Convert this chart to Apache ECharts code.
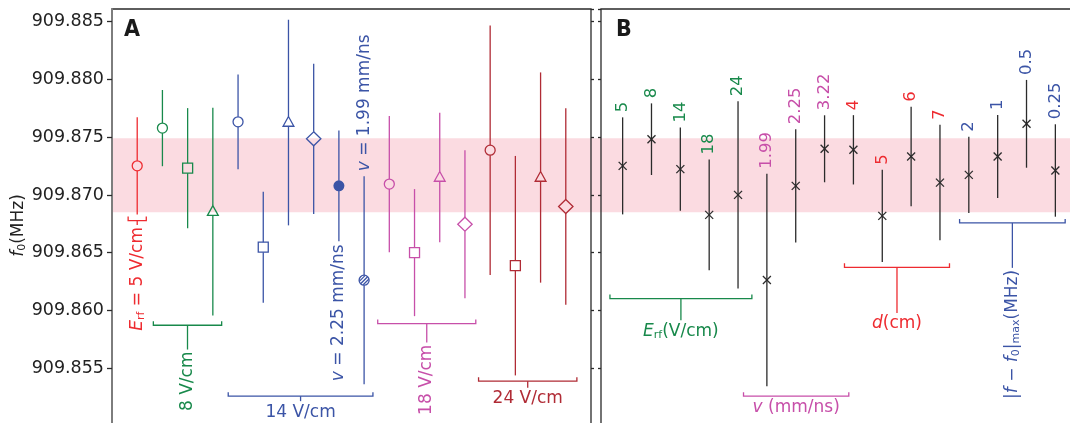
<!DOCTYPE html>
<html>
<head>
<meta charset="utf-8">
<script src="https://cdn.jsdelivr.net/npm/echarts@6/dist/echarts.min.js"></script>
<style>
html, body { margin: 0; padding: 0; background: #fff; }
#chart { width: 1070px; height: 423px; }
</style>
</head>
<body>
<div id="chart"></div>
<script>
// ---- 数据：A 面板（各组测量值 + 误差）
var xA = [1, 2, 3, 4, 5, 6, 7, 8, 9, 10, 11, 12, 13, 14, 15, 16, 17, 18]
var freqA = [909.87252, 909.87579, 909.87232, 909.86856, 909.87633, 909.86548, 909.87627, 909.87486, 909.87079,
  909.86262, 909.87094, 909.86501, 909.87151, 909.86747, 909.87388, 909.86388, 909.87151, 909.86900]
var errA = [0.0042, 0.0033, 0.0052, 0.0090, 0.0041, 0.0048, 0.0089, 0.0065, 0.0048,
  0.0090, 0.0059, 0.0055, 0.0056, 0.0064, 0.0108, 0.0095, 0.0091, 0.0085]
var markerA = ['circle', 'circle', 'square', 'triangle', 'circle', 'square', 'triangle', 'diamond', 'filled',
  'hatched', 'circle', 'square', 'triangle', 'diamond', 'circle', 'square', 'triangle', 'diamond']
var groupA = ['r', 'g', 'g', 'g', 'b', 'b', 'b', 'b', 'b', 'b', 'p', 'p', 'p', 'p', 'd', 'd', 'd', 'd']

// ---- 数据：B 面板（按参数分组）
var xB = [1, 2, 3, 4, 5, 6, 7, 8, 9, 10, 11, 12, 13, 14, 15, 16]
var freqB = [909.87252, 909.87483, 909.87224, 909.86828, 909.87001, 909.86264, 909.87079, 909.87400,
  909.87391, 909.86819, 909.87333, 909.87107, 909.87174, 909.87333, 909.87616, 909.87212]
var errB = [0.0042, 0.0031, 0.0036, 0.0048, 0.0081, 0.0092, 0.0049, 0.0029,
  0.0030, 0.0040, 0.0043, 0.0050, 0.0033, 0.0036, 0.0038, 0.0040]
var labelB = ['5', '8', '14', '18', '24', '1.99', '2.25', '3.22', '4', '5', '6', '7', '2', '1', '0.5', '0.25']
var groupB = ['g', 'g', 'g', 'g', 'g', 'p', 'p', 'p', 'r', 'r', 'r', 'r', 'b', 'b', 'b', 'b']

// 粉色带（平均值范围）
var band = [909.8685, 909.8749]

// 分组括号（x 为数据坐标范围，y 为括号所在频率值，stem 为竖线末端）
var bracketA = [
  { from: 0.64, to: 1.36, y: 909.86778, stem: 909.86740, key: 'r', text: '{i|E}{s|rf} = 5 V/cm', rot: true },
  { from: 1.64, to: 4.35, y: 909.85872, stem: 909.85662, key: 'g', text: '8 V/cm', rot: true },
  { from: 4.61, to: 10.35, y: 909.85258, stem: 909.85215, key: 'b', text: '14 V/cm', rot: false },
  { from: 10.54, to: 14.43, y: 909.85887, stem: 909.85722, key: 'p', text: '18 V/cm', rot: true },
  { from: 14.54, to: 18.44, y: 909.85388, stem: 909.85331, key: 'd', text: '24 V/cm', rot: false }
]
var bracketB = [
  { from: 0.56, to: 5.48, y: 909.86103, stem: 909.85915, key: 'g', text: '{i|E}{s|rf}(V/cm)', rot: false },
  { from: 5.19, to: 8.84, y: 909.85258, stem: 909.85258, key: 'p', text: '{i|v} (mm/ns)', rot: false },
  { from: 8.69, to: 12.33, y: 909.86374, stem: 909.85979, key: 'r', text: '{i|d}(cm)', rot: false },
  { from: 12.68, to: 16.34, y: 909.86758, stem: 909.86369, key: 'b', text: '|{i|f} \u2212 {i|f}{s|0}|{s|max}(MHz)', rot: true }
]
// 单点注释
var notesA = [
  { idx: 8, text: '{i|v} = 2.25 mm/ns', side: 'below' },
  { idx: 9, text: '{i|v} = 1.99 mm/ns', side: 'above' }
]

var FONT = "'DejaVu Sans', 'Noto Sans', sans-serif"
var COLOR = { r: '#ee2b30', g: '#18894b', b: '#3b54a6', p: '#c74fa9', d: '#b02b35' }

function rich (col, size) {
  return {
    i: { fontStyle: 'italic', fontSize: size, fontFamily: FONT, fill: col, color: col },
    s: { fontSize: Math.round(size * 0.65), fontFamily: FONT, fill: col, color: col, padding: [8, 0, 0, 0] }
  }
}

function textEl (x, y, text, col, size, rot, align, vAlign) {
  return {
    type: 'text',
    x: x,
    y: y,
    rotation: rot ? Math.PI / 2 : 0,
    z2: 10,
    style: {
      text: text,
      fill: col,
      fontSize: size,
      fontFamily: FONT,
      align: align,
      verticalAlign: vAlign,
      rich: rich(col, size)
    }
  }
}

function markerEl (kind, x, y, col) {
  var st = { fill: 'rgba(0,0,0,0)', stroke: col, lineWidth: 1.3 }
  if (kind === 'circle') return { el: [{ type: 'circle', shape: { cx: x, cy: y, r: 5 }, style: st }], t: 5, b: 5 }
  if (kind === 'filled') return { el: [{ type: 'circle', shape: { cx: x, cy: y, r: 5.5 }, style: { fill: col } }], t: 5, b: 5 }
  if (kind === 'square') return { el: [{ type: 'rect', shape: { x: x - 5, y: y - 5, width: 10, height: 10 }, style: st }], t: 5, b: 5 }
  if (kind === 'triangle') return { el: [{ type: 'polygon', shape: { points: [[x, y - 6], [x - 5.4, y + 3.7], [x + 5.4, y + 3.7]] }, style: st }], t: 6, b: 3.7 }
  if (kind === 'diamond') return { el: [{ type: 'polygon', shape: { points: [[x, y - 7], [x + 7.2, y], [x, y + 7], [x - 7.2, y]] }, style: st }], t: 7, b: 7 }
  // hatched circle
  var r = 5
  var els = [{ type: 'circle', shape: { cx: x, cy: y, r: r }, style: st }]
  ;[-2.6, 0, 2.6].forEach(function (d) {
    var cx = x + d / Math.SQRT2, cy = y + d / Math.SQRT2
    var L = Math.sqrt(r * r - d * d) - 0.4
    els.push({ type: 'line', shape: { x1: cx - L / Math.SQRT2, y1: cy + L / Math.SQRT2, x2: cx + L / Math.SQRT2, y2: cy - L / Math.SQRT2 }, style: { stroke: col, lineWidth: 1.3 } })
  })
  return { el: els, t: r, b: r }
}

function renderA (params, api) {
  var i = params.dataIndex
  var x = api.value(0), v = api.value(1), e = api.value(2)
  var c = api.coord([x, v]), top = api.coord([x, v + e]), bot = api.coord([x, v - e])
  var col = COLOR[groupA[i]]
  var m = markerEl(markerA[i], c[0], c[1], col)
  var children = [
    { type: 'line', shape: { x1: c[0], y1: top[1], x2: c[0], y2: c[1] - m.t }, style: { stroke: col, lineWidth: 1.3 } },
    { type: 'line', shape: { x1: c[0], y1: c[1] + m.b, x2: c[0], y2: bot[1] }, style: { stroke: col, lineWidth: 1.3 } }
  ].concat(m.el)
  notesA.forEach(function (n) {
    if (n.idx !== i) return
    if (n.side === 'below') children.push(textEl(c[0], bot[1] + 3, n.text, col, 17, true, 'right', 'middle'))
    else children.push(textEl(c[0], top[1] - 5, n.text, col, 17, true, 'left', 'middle'))
  })
  return { type: 'group', children: children }
}

function renderB (params, api) {
  var i = params.dataIndex
  var x = api.value(0), v = api.value(1), e = api.value(2)
  var c = api.coord([x, v]), top = api.coord([x, v + e]), bot = api.coord([x, v - e])
  var k = 4, ink = '#2b2b2b'
  return {
    type: 'group',
    children: [
      { type: 'line', shape: { x1: c[0], y1: top[1], x2: c[0], y2: bot[1] }, style: { stroke: ink, lineWidth: 1.3 } },
      { type: 'line', shape: { x1: c[0] - k, y1: c[1] - k, x2: c[0] + k, y2: c[1] + k }, style: { stroke: ink, lineWidth: 1.3 } },
      { type: 'line', shape: { x1: c[0] - k, y1: c[1] + k, x2: c[0] + k, y2: c[1] - k }, style: { stroke: ink, lineWidth: 1.3 } },
      textEl(c[0], top[1] - 5, labelB[i], COLOR[groupB[i]], 16.5, true, 'left', 'middle')
    ]
  }
}

function bracketRenderer (list) {
  return function (params, api) {
    var b = list[params.dataIndex]
    var col = COLOR[b.key]
    var p1 = api.coord([b.from, b.y]), p2 = api.coord([b.to, b.y])
    var mid = (p1[0] + p2[0]) / 2
    var s = api.coord([(b.from + b.to) / 2, b.stem])
    var children = [
      { type: 'polyline', shape: { points: [[p1[0], p1[1] - 4], [p1[0], p1[1]], [p2[0], p2[1]], [p2[0], p2[1] - 4]] }, style: { stroke: col, lineWidth: 1.3, fill: null } }
    ]
    if (s[1] - p1[1] > 0.5) {
      children.push({ type: 'line', shape: { x1: mid, y1: p1[1], x2: mid, y2: s[1] }, style: { stroke: col, lineWidth: 1.3 } })
    }
    if (b.rot) children.push(textEl(mid, s[1] + 2, b.text, col, 17, true, 'right', 'middle'))
    else children.push(textEl(mid, s[1] + 11, b.text, col, 17, false, 'center', 'middle'))
    return { type: 'group', children: children }
  }
}

function renderBand (params, api) {
  var hi = api.coord([api.value(0), api.value(2)])
  var lo = api.coord([api.value(0), api.value(1)])
  var x0 = params.coordSys.x
  return {
    type: 'rect',
    shape: { x: x0, y: hi[1], width: api.getWidth() - x0, height: lo[1] - hi[1] },
    style: { fill: '#fbdbe1' }
  }
}

var chart = echarts.init(document.getElementById('chart'))

var yBase = { type: 'value', min: 909.850, max: 909.8861, interval: 0.005, splitLine: { show: false } }

var option = {
  animation: false,
  backgroundColor: '#fff',
  grid: [
    { left: 112, top: 9, width: 479, height: 417, show: true, borderColor: '#2a2a2a', borderWidth: 1.3, containLabel: false, outerBoundsMode: 'none' },
    { left: 601, top: 9, width: 476, height: 417, show: true, borderColor: '#2a2a2a', borderWidth: 1.3, containLabel: false, outerBoundsMode: 'none' }
  ],
  xAxis: [
    { gridIndex: 0, type: 'value', min: 0, max: 19, show: false },
    { gridIndex: 1, type: 'value', min: 0.25, max: 16.75, show: false }
  ],
  yAxis: [
    Object.assign({}, yBase, {
      gridIndex: 0,
      position: 'left',
      axisLine: { show: true, lineStyle: { color: '#7d7d7d', width: 2 } },
      axisTick: { show: true, length: 5, lineStyle: { color: '#2a2a2a', width: 1.3 } },
      axisLabel: {
        show: true, margin: 8, fontSize: 17.5, fontFamily: FONT, color: '#222',
        showMinLabel: false, showMaxLabel: false,
        formatter: function (v) { return v.toFixed(3) }
      },
      name: '{i|f}{s|0}(MHz)',
      nameLocation: 'middle',
      nameRotate: 90,
      nameGap: 80,
      nameTextStyle: {
        fontSize: 17, fontFamily: FONT, color: '#222', padding: [0, 16, 0, 0],
        rich: {
          i: { fontStyle: 'italic', fontSize: 17, fontFamily: FONT, color: '#222' },
          s: { fontSize: 11, fontFamily: FONT, color: '#222', padding: [8, 0, 0, 0] }
        }
      }
    }),
    Object.assign({}, yBase, {
      gridIndex: 0,
      position: 'right',
      axisLine: { show: false },
      axisTick: { show: true, length: 3, lineStyle: { color: '#2a2a2a', width: 1.3 } },
      axisLabel: { show: false }
    }),
    Object.assign({}, yBase, {
      gridIndex: 1,
      position: 'left',
      axisLine: { show: false },
      axisTick: { show: true, length: 3, lineStyle: { color: '#2a2a2a', width: 1.3 } },
      axisLabel: { show: false }
    })
  ],
  graphic: [
    { type: 'text', left: 124, top: 19, style: { text: 'A', fontSize: 23, fontWeight: 'bold', fontFamily: "'Liberation Sans Narrow', 'DejaVu Sans Condensed', 'DejaVu Sans'", fill: '#1a1a1a' } },
    { type: 'text', left: 616, top: 19, style: { text: 'B', fontSize: 23, fontWeight: 'bold', fontFamily: "'Liberation Sans Narrow', 'DejaVu Sans Condensed', 'DejaVu Sans'", fill: '#1a1a1a' } }
  ],
  series: [
    {
      type: 'custom', name: 'band', xAxisIndex: 0, yAxisIndex: 0, z: -1, silent: true,
      renderItem: renderBand,
      encode: { x: 0, y: [1, 2] },
      data: [[1, band[0], band[1]]]
    },
    {
      type: 'custom', name: 'A', xAxisIndex: 0, yAxisIndex: 0, z: 3,
      renderItem: renderA,
      encode: { x: 0, y: 1 },
      data: xA.map(function (x, i) { return [x, freqA[i], errA[i]] })
    },
    {
      type: 'custom', name: 'bracketA', xAxisIndex: 0, yAxisIndex: 0, z: 3,
      renderItem: bracketRenderer(bracketA),
      encode: { x: 0, y: 1 },
      data: bracketA.map(function (b) { return [(b.from + b.to) / 2, b.y] })
    },
    {
      type: 'custom', name: 'B', xAxisIndex: 1, yAxisIndex: 2, z: 3,
      renderItem: renderB,
      encode: { x: 0, y: 1 },
      data: xB.map(function (x, i) { return [x, freqB[i], errB[i]] })
    },
    {
      type: 'custom', name: 'bracketB', xAxisIndex: 1, yAxisIndex: 2, z: 3,
      renderItem: bracketRenderer(bracketB),
      encode: { x: 0, y: 1 },
      data: bracketB.map(function (b) { return [(b.from + b.to) / 2, b.y] })
    }
  ]
}

chart.setOption(option)
</script>
</body>
</html>
